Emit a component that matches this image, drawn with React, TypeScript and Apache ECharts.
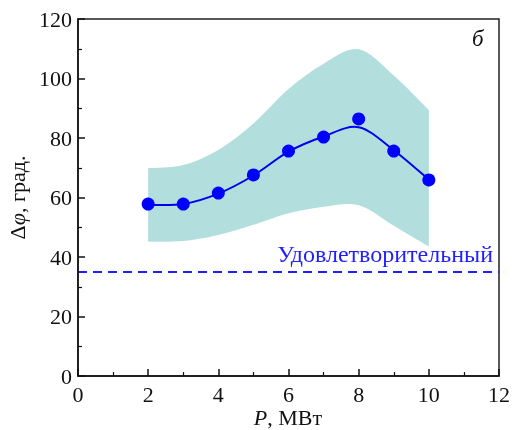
import React, { useEffect, useRef } from "react";
import * as echarts from "echarts";

const pointX = [2, 3, 4, 5, 6, 7, 8, 9, 10];
const pointY = [57.8, 57.8, 61.5, 67.6, 75.6, 80.3, 86.4, 75.6, 65.9];

const curveX = [2, 3, 4, 5, 6, 7, 8, 9, 10];
const fitY = [57.5, 57.8, 61.3, 67.4, 75.4, 80.5, 83.6, 75.9, 66];
const bandHigh = [69.8, 70.9, 76, 84.9, 96.5, 105, 109.8, 101, 89.4];
const bandLow = [45.1, 45.4, 47.4, 50.8, 54.7, 56.9, 57.4, 50.5, 43.5];

const limitValue = 35;
const limitLabel = "Удовлетворительный";
const panelLabel = "б";
const xName = "{i|P}, МВт";
const yName = "Δ{i|φ}, град.";

const FONT = "'Liberation Serif', 'Times New Roman', serif";

type Pt = number[];

function spline(ctx: any, pts: Pt[], move: boolean) {
  if (!pts.length) return;
  if (move) ctx.moveTo(pts[0][0], pts[0][1]);
  else ctx.lineTo(pts[0][0], pts[0][1]);
  for (let i = 0; i < pts.length - 1; i++) {
    const p0 = pts[i - 1] || pts[i];
    const p1 = pts[i];
    const p2 = pts[i + 1];
    const p3 = pts[i + 2] || p2;
    ctx.bezierCurveTo(
      p1[0] + (p2[0] - p0[0]) / 6,
      p1[1] + (p2[1] - p0[1]) / 6,
      p2[0] - (p3[0] - p1[0]) / 6,
      p2[1] - (p3[1] - p1[1]) / 6,
      p2[0],
      p2[1]
    );
  }
}

let registered = false;
function registerShapes() {
  if (registered) return;
  registered = true;
  echarts.graphic.registerShape(
    "smoothBand",
    echarts.graphic.extendShape({
      shape: { upper: [] as Pt[], lower: [] as Pt[] },
      buildPath(ctx: any, shape: any) {
        spline(ctx, shape.upper, true);
        if (shape.lower && shape.lower.length) {
          spline(ctx, shape.lower.slice().reverse(), false);
          ctx.closePath();
        }
      },
    }) as any
  );
}

export default function App() {
  const ref = useRef<HTMLDivElement>(null);
  useEffect(() => {
    registerShapes();
    const chart = echarts.init(ref.current!, null, { renderer: "svg" });
    const axisCommon = {
      z: 10,
      axisLine: { show: true, onZero: false, lineStyle: { color: "#111", width: 1.5 } },
      axisTick: { show: true, inside: true, length: 7, lineStyle: { color: "#111", width: 1.5 } },
      minorTick: { show: true, splitNumber: 2, length: 4, lineStyle: { color: "#111", width: 1.2 } },
      splitLine: { show: false },
      axisLabel: { fontFamily: FONT, fontSize: 22, color: "#111" },
    };
    const rich = {
      i: { fontFamily: FONT, fontSize: 22, fontStyle: "italic", color: "#111" },
    };
    chart.setOption({
      animation: false,
      textStyle: { fontFamily: FONT },
      grid: {
        left: 78,
        right: 16,
        top: 19,
        bottom: 54,
        show: true,
        borderColor: "#222",
        borderWidth: 1.5,
        outerBoundsMode: "none",
      },
      xAxis: {
        type: "value",
        min: 0,
        max: 12,
        interval: 2,
        ...axisCommon,
        axisLabel: { ...axisCommon.axisLabel, margin: 7 },
      },
      yAxis: {
        type: "value",
        min: 0,
        max: 120,
        interval: 20,
        ...axisCommon,
        axisLabel: { ...axisCommon.axisLabel, margin: 6 },
        name: yName,
        nameLocation: "middle",
        nameGap: 48,
        nameTextStyle: { fontFamily: FONT, fontSize: 22, color: "#111", rich },
      },
      series: [
        {
          type: "custom",
          data: curveX.map((x, i) => [x, bandLow[i], bandHigh[i]]),
          encode: { x: 0, y: [1, 2] },
          silent: true,
          z: 1,
          renderItem: (params: any, api: any) => {
            if (params.dataIndex !== 0) return null;
            const upper = curveX.map((x, i) => api.coord([x, bandHigh[i]]));
            const lower = curveX.map((x, i) => api.coord([x, bandLow[i]]));
            return {
              type: "smoothBand",
              shape: { upper, lower },
              style: { fill: "#b2dfdd", stroke: null },
            };
          },
        },
        {
          type: "line",
          data: [
            [0, limitValue],
            [12, limitValue],
          ],
          symbol: "none",
          lineStyle: { color: "#1f1fff", width: 2, type: [9, 6] },
          silent: true,
          z: 3,
        },
        {
          type: "custom",
          data: curveX.map((x, i) => [x, fitY[i]]),
          encode: { x: 0, y: 1 },
          silent: true,
          z: 4,
          renderItem: (params: any, api: any) => {
            if (params.dataIndex !== 0) return null;
            const upper = curveX.map((x, i) => api.coord([x, fitY[i]]));
            return {
              type: "smoothBand",
              shape: { upper, lower: [] },
              style: { fill: null, stroke: "#0000ee", lineWidth: 2 },
            };
          },
        },
        {
          type: "scatter",
          data: pointX.map((x, i) => [x, pointY[i]]),
          symbol: "circle",
          symbolSize: 13,
          itemStyle: { color: "#0000ff", opacity: 1 },
          z: 5,
        },
      ],
      graphic: [
        {
          type: "text",
          x: 288,
          y: 417,
          z: 20,
          style: {
            text: xName,
            fontFamily: FONT,
            fontSize: 22,
            fill: "#111",
            align: "center",
            verticalAlign: "middle",
            rich,
          },
        },
        {
          type: "text",
          right: 22,
          top: 242,
          z: 20,
          style: {
            text: limitLabel,
            fontFamily: FONT,
            fontSize: 24,
            fill: "#1f1fff",
          },
        },
        {
          type: "text",
          left: 472,
          top: 27,
          z: 20,
          style: {
            text: panelLabel,
            fontFamily: FONT,
            fontSize: 23,
            fontStyle: "italic",
            fill: "#111",
          },
        },
      ],
    });
    return () => chart.dispose();
  }, []);
  return (
    <div
      ref={ref}
      style={{ position: "fixed", left: 0, top: 0, width: 515, height: 430 }}
    />
  );
}
